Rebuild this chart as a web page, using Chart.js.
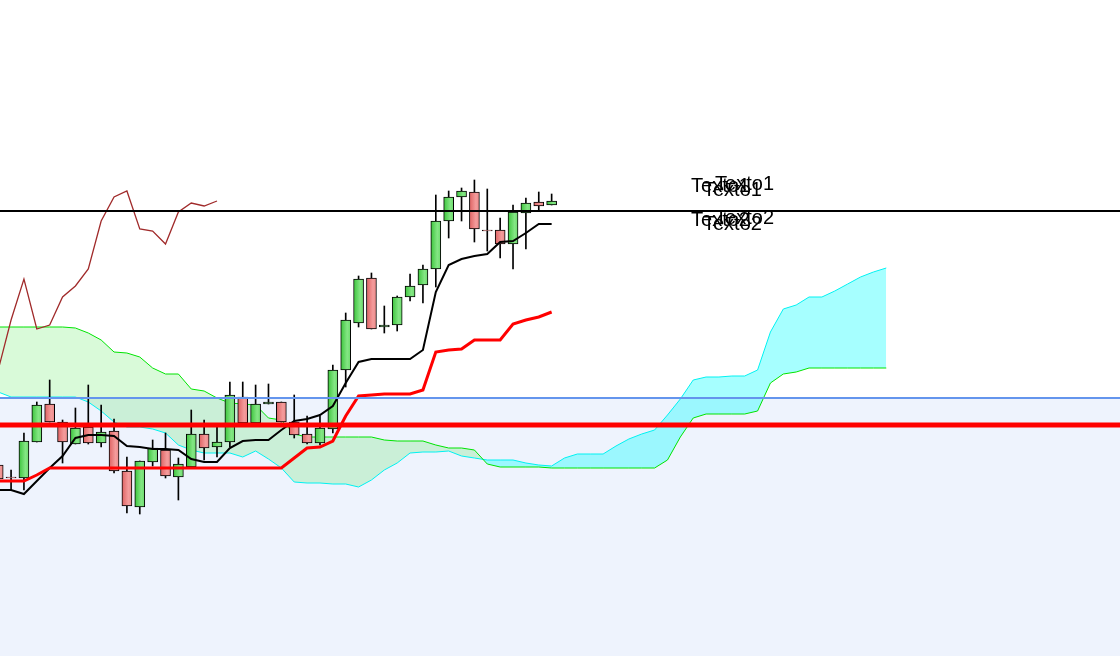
<!DOCTYPE html>
<html>
<head>
<meta charset="utf-8">
<script src="https://cdn.jsdelivr.net/npm/chart.js@4.4.1/dist/chart.umd.min.js"></script>
<style>
  html, body { margin: 0; padding: 0; background: #ffffff; }
</style>
</head>
<body>
<canvas id="chart" width="1120" height="656"></canvas>
<script>
// candles (one per period, index 0..43)
const opens = [
  1.0991, 1.0979, 1.0978, 1.1014, 1.1052, 1.1034, 1.1012, 1.1029, 1.1013, 1.1025,
  1.0985, 1.0949, 1.0994, 1.1006, 1.0979, 1.0989, 1.1022, 1.1009, 1.1014, 1.1059,
  1.1033, 1.1052, 1.1054, 1.1034, 1.1022, 1.1013, 1.1027, 1.1086, 1.1133, 1.1178,
  1.1129, 1.1131, 1.1159, 1.1171, 1.1187, 1.1235, 1.1259, 1.1264, 1.1226, 1.1226,
  1.1212, 1.1243, 1.1254, 1.1251
];
const highs = [
  1.0996, 1.0986, 1.1023, 1.1054, 1.1076, 1.1036, 1.1048, 1.1071, 1.1051, 1.1037,
  1.0999, 1.0995, 1.1016, 1.1023, 1.0998, 1.1046, 1.1036, 1.1029, 1.1074, 1.1074,
  1.1071, 1.1072, 1.1054, 1.1061, 1.1040, 1.1040, 1.1091, 1.1143, 1.1180, 1.1183,
  1.1150, 1.1160, 1.1182, 1.1191, 1.1261, 1.1265, 1.1268, 1.1276, 1.1267, 1.1238,
  1.1251, 1.1258, 1.1264, 1.1262
];
const lows = [
  1.0974, 1.0966, 1.0966, 1.1014, 1.1034, 1.0993, 1.1012, 1.1012, 1.1009, 1.0983,
  1.0943, 1.0942, 1.0990, 1.0978, 1.0956, 1.0989, 1.0996, 1.0999, 1.1009, 1.1033,
  1.1033, 1.1052, 1.1034, 1.1018, 1.1012, 1.1011, 1.1023, 1.1069, 1.1129, 1.1127,
  1.1123, 1.1125, 1.1155, 1.1153, 1.1169, 1.1218, 1.1235, 1.1214, 1.1205, 1.1198,
  1.1187, 1.1207, 1.1246, 1.1251
];
const closes = [
  1.0977, 1.0978, 1.1015, 1.1051, 1.1034, 1.1014, 1.1028, 1.1013, 1.1024, 1.0985,
  1.0950, 1.0995, 1.1008, 1.0980, 1.0992, 1.1022, 1.1008, 1.1014, 1.1061, 1.1033,
  1.1052, 1.1054, 1.1034, 1.1021, 1.1013, 1.1028, 1.1086, 1.1136, 1.1177, 1.1127,
  1.1131, 1.1159, 1.1170, 1.1187, 1.1235, 1.1259, 1.1265, 1.1227, 1.1225, 1.1212,
  1.1244, 1.1253, 1.1250, 1.1255
];

// ichimoku lines
const tenkan = [
  1.0966, 1.0966, 1.0962, 1.0975, 1.0988, 1.1000, 1.1018, 1.1021, 1.1021, 1.1020,
  1.1010, 1.1009, 1.1007, 1.1007, 1.1006, 1.0997, 1.0994, 1.0994, 1.1008, 1.1015,
  1.1016, 1.1016, 1.1026, 1.1035, 1.1037, 1.1041, 1.1050, 1.1073, 1.1094, 1.1097,
  1.1097, 1.1097, 1.1097, 1.1106, 1.1164, 1.1191, 1.1197, 1.1200, 1.1202, 1.1214,
  1.1215, 1.1223, 1.1232, 1.1232
];
const kijun = [
  1.0975, 1.0975, 1.0975, 1.0981, 1.0988, 1.0988, 1.0988, 1.0988, 1.0988, 1.0988,
  1.0988, 1.0988, 1.0988, 1.0988, 1.0988, 1.0988, 1.0988, 1.0988, 1.0988, 1.0988,
  1.0988, 1.0988, 1.0988, 1.0998, 1.1008, 1.1009, 1.1015, 1.1040, 1.1060, 1.1061,
  1.1062, 1.1062, 1.1062, 1.1066, 1.1104, 1.1106, 1.1107, 1.1116, 1.1116, 1.1116,
  1.1132, 1.1136, 1.1139, 1.1144
];
// cloud, runs 26 periods past the last candle (index 0..69)
const spanGreen = [
  1.1129, 1.1129, 1.1129, 1.1129, 1.1129, 1.1129, 1.1128, 1.1123, 1.1116, 1.1104,
  1.1103, 1.1099, 1.1088, 1.1082, 1.1082, 1.1067, 1.1065, 1.1058, 1.1053, 1.1052,
  1.1051, 1.1038, 1.1036, 1.1022, 1.1019, 1.1019, 1.1019, 1.1019, 1.1019, 1.1019,
  1.1016, 1.1015, 1.1015, 1.1015, 1.1011, 1.1008, 1.1008, 1.1006, 1.0992, 1.0989,
  1.0989, 1.0989, 1.0989, 1.0988, 1.0988, 1.0988, 1.0988, 1.0988, 1.0988, 1.0988,
  1.0988, 1.0988, 1.0996, 1.1019, 1.1038, 1.1042, 1.1042, 1.1042, 1.1042, 1.1045,
  1.1073, 1.1082, 1.1084, 1.1088, 1.1088, 1.1088, 1.1088, 1.1088, 1.1088, 1.1088
];
const spanCyan = [
  1.1064, 1.1059, 1.1059, 1.1059, 1.1059, 1.1059, 1.1059, 1.1054, 1.1045, 1.1034,
  1.1029, 1.1029, 1.1027, 1.1023, 1.1011, 1.1006, 1.1003, 1.1003, 1.1003, 1.0999,
  1.1005, 1.0997, 1.0988, 1.0974, 1.0973, 1.0973, 1.0972, 1.0972, 1.0969, 1.0976,
  1.0986, 1.0993, 1.1003, 1.1004, 1.1004, 1.1005, 1.1000, 1.0998, 1.0996, 1.0996,
  1.0996, 1.0993, 1.0991, 1.0990, 1.0998, 1.1002, 1.1002, 1.1002, 1.1010, 1.1017,
  1.1022, 1.1026, 1.1041, 1.1057, 1.1076, 1.1079, 1.1079, 1.1080, 1.1080, 1.1086,
  1.1124, 1.1147, 1.1151, 1.1159, 1.1159, 1.1165, 1.1172, 1.1179, 1.1184, 1.1188
];
const chikouShift = 26;

// horizontal levels
const blackLevel = 1.1245;
const blueLevel = 1.1058;
const redLevel = 1.1031;

// text labels near the black level
const labelTexts = ["Texto1", "Texto1", "Texto1", "Texto2", "Texto2", "Texto2"];
const labelX = [53.83, 54.76, 55.7, 53.83, 54.76, 55.7];
const labelY = [1.1270, 1.1266, 1.1272, 1.1236, 1.1232, 1.1238];

const xMin = 0.14;
const xMax = 87.16;
const yMin = 1.0800;
const yMax = 1.1456;

const levelLine = (value, color, width, order) => ({
  type: "line",
  data: [{ x: -5, y: value }, { x: 95, y: value }],
  borderColor: color,
  borderWidth: width,
  pointRadius: 0,
  fill: false,
  order: order,
});

const toPoints = (arr) => arr.map((v, i) => ({ x: i, y: v }));

// candle body colour, shaded across the body
const bodyColor = (c) => {
  const i = c.dataIndex;
  const up = closes[i] >= opens[i];
  const solid = up ? "#55d655" : "#ec7c7c";
  const scale = c.chart.scales && c.chart.scales.x;
  if (!scale || i === undefined) return solid;
  const px = scale.getPixelForValue(i);
  if (!Number.isFinite(px)) return solid;
  const g = c.chart.ctx.createLinearGradient(px - 5, 0, px + 5, 0);
  if (up) {
    g.addColorStop(0, "#3cc43c");
    g.addColorStop(0.65, "#84e684");
    g.addColorStop(1, "#6cdc6c");
  } else {
    g.addColorStop(0, "#de6262");
    g.addColorStop(0.65, "#f49c9c");
    g.addColorStop(1, "#ec8888");
  }
  return g;
};

let chikou = [];
for (let i = chikouShift - 1; i < closes.length; i++) {
  chikou.push({ x: i - chikouShift, y: closes[i] });
}

const textPlugin = {
  id: "texts",
  afterDatasetsDraw(chart) {
    const { ctx, scales } = chart;
    ctx.save();
    ctx.font = '20px "Liberation Sans", Arial, sans-serif';
    ctx.fillStyle = "#000000";
    ctx.textBaseline = "middle";
    ctx.textAlign = "left";
    for (let k = 0; k < labelTexts.length; k++) {
      ctx.fillText(
        labelTexts[k],
        scales.x.getPixelForValue(labelX[k]),
        scales.y.getPixelForValue(labelY[k])
      );
    }
    ctx.restore();
  },
};

new Chart(document.getElementById("chart"), {
  type: "bar",
  data: {
    datasets: [
      // 0: light blue area under the blue level
      {
        type: "line",
        data: [{ x: -5, y: blueLevel }, { x: 95, y: blueLevel }],
        borderWidth: 0,
        pointRadius: 0,
        fill: "start",
        backgroundColor: "#eef3fd",
        order: 20,
      },
      // 1: cloud green line
      {
        type: "line",
        data: toPoints(spanGreen),
        borderColor: "#00e400",
        borderWidth: 1,
        pointRadius: 0,
        fill: false,
        order: 18,
      },
      // 2: cloud cyan line, filled against the green one
      {
        type: "line",
        data: toPoints(spanCyan),
        borderColor: "#00f2f2",
        borderWidth: 1,
        pointRadius: 0,
        fill: {
          target: 1,
          above: "rgba(0, 255, 255, 0.35)",
          below: "rgba(0, 220, 0, 0.15)",
        },
        order: 19,
      },
      // 3: wicks
      {
        data: lows.map((l, i) => ({ x: i, y: [l, highs[i]] })),
        backgroundColor: "#000000",
        barThickness: 1,
        grouped: false,
        order: 12,
      },
      // 4: bodies
      {
        data: opens.map((o, i) => ({ x: i, y: [o, closes[i]] })),
        backgroundColor: bodyColor,
        borderColor: "#000000",
        borderWidth: 1,
        borderSkipped: false,
        barThickness: 10,
        grouped: false,
        order: 11,
      },
      // 5: chikou
      {
        type: "line",
        data: chikou,
        borderColor: "#a02a2a",
        borderWidth: 1.3,
        pointRadius: 0,
        fill: false,
        order: 8,
      },
      // 6: tenkan
      {
        type: "line",
        data: toPoints(tenkan),
        borderColor: "#000000",
        borderWidth: 2,
        pointRadius: 0,
        fill: false,
        order: 7,
      },
      // 7: kijun
      {
        type: "line",
        data: toPoints(kijun),
        borderColor: "#ff0000",
        borderWidth: 3,
        pointRadius: 0,
        fill: false,
        order: 6,
      },
      levelLine(blueLevel, "#6495ed", 2, 3),
      levelLine(redLevel, "#ff0000", 5, 2),
      levelLine(blackLevel, "#000000", 2, 1),
    ],
  },
  options: {
    responsive: false,
    animation: false,
    devicePixelRatio: 1,
    layout: { padding: 0 },
    plugins: {
      legend: { display: false },
      tooltip: { enabled: false },
    },
    scales: {
      x: {
        type: "linear",
        min: xMin,
        max: xMax,
        offset: false,
        display: false,
      },
      y: {
        type: "linear",
        min: yMin,
        max: yMax,
        display: false,
      },
    },
  },
  plugins: [textPlugin],
});
</script>
</body>
</html>
